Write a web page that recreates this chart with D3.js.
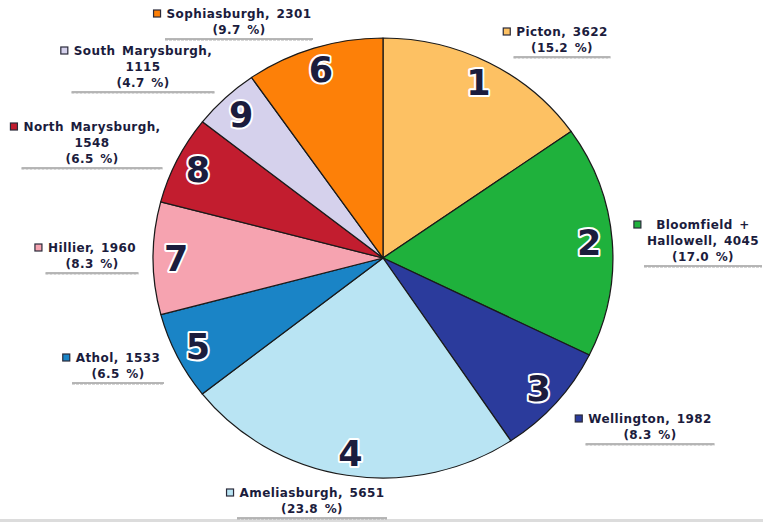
<!DOCTYPE html>
<html>
<head>
<meta charset="utf-8">
<script src="https://cdn.jsdelivr.net/npm/d3@7"></script>
<style>
  body { margin: 0; background: #fff; }
  svg { display: block; }
</style>
</head>
<body>
<div id="chart"></div>
<script>
// slices, clockwise from 12 o'clock
var townships = ["Picton", "Bloomfield + Hallowell", "Wellington", "Ameliasburgh", "Athol",
                 "Hillier", "North Marysburgh", "South Marysburgh", "Sophiasburgh"];
var wardNumbers = [1, 2, 3, 4, 5, 7, 8, 9, 6];
var population = [3622, 4045, 1982, 5651, 1533, 1960, 1548, 1115, 2301];
var colours = ["#fdc163", "#1fb13c", "#2b3b9c", "#b9e4f3", "#1a84c6",
               "#f6a3b0", "#c21d2f", "#d5d1ec", "#fd8008"];

var width = 763, height = 522;
var cx = 383, cy = 258, r = 220;
var textColour = '#1b1c3d';

var svg = d3.select('#chart')
    .append('svg')
    .attr('width', width)
    .attr('height', height);

// scanned page edge at the bottom
svg.append('rect')
    .attr('x', 0).attr('y', 519)
    .attr('width', width).attr('height', 3)
    .style('fill', '#dcdcdc');

var total = d3.sum(population);
var rows = townships.map(function (t, i) {
    return { name: t, num: wardNumbers[i], value: population[i], colour: colours[i],
             pct: (population[i] / total * 100).toFixed(1) };
});

var pie = d3.pie().sort(null).value(function (d) { return d.value; });
var arcs = pie(rows);

var arc = d3.arc().innerRadius(0).outerRadius(r);
var labelArc = d3.arc().innerRadius(198).outerRadius(198);

// pie is slightly wider than tall in the scan
var g = svg.append('g')
    .attr('transform', 'translate(' + cx + ',' + cy + ') scale(1.045,1)');

g.selectAll('path.slice')
    .data(arcs)
    .enter().append('path')
    .attr('class', 'slice')
    .attr('d', arc)
    .style('fill', function (d) { return d.data.colour; })
    .style('stroke', '#1a1a1a')
    .style('stroke-width', 1.2)
    .style('stroke-linejoin', 'round');

svg.append('g')
    .attr('transform', 'translate(' + cx + ',' + cy + ')')
    .selectAll('text')
    .data(arcs)
    .enter().append('text')
    .attr('x', function (d) { return labelArc.centroid(d)[0] * 1.045; })
    .attr('y', function (d) { return labelArc.centroid(d)[1]; })
    .attr('dy', '0.36em')
    .attr('text-anchor', 'middle')
    .style('font-family', '"DejaVu Sans", Verdana, sans-serif')
    .style('font-weight', 'bold')
    .style('font-size', '35px')
    .style('fill', textColour)
    .style('stroke', '#fff')
    .style('stroke-width', 4)
    .style('stroke-linejoin', 'round')
    .style('paint-order', 'stroke')
    .text(function (d) { return d.data.num; });

// callout text, line breaks per label
function labelLines(d) {
    var v = d.value, p = '(' + d.pct + ' %)';
    switch (d.name) {
        case "Bloomfield + Hallowell": return ["Bloomfield +", "Hallowell, " + v, p];
        case "North Marysburgh":
        case "South Marysburgh": return [d.name + ",", "" + v, p];
        default: return [d.name + ", " + v, p];
    }
}

// where each callout block sits: centre x, first line y, underline width
var calloutX = [562, 703, 650, 312, 118, 92, 92, 143, 239];
var calloutY = [32, 225, 419, 493, 358, 248, 127, 51, 14];
var calloutW = [97, 118, 129, 150, 92, 93, 141, 143, 148];
var lineH = 16;

var callouts = svg.selectAll('g.callout')
    .data(rows)
    .enter().append('g')
    .attr('class', 'callout')
    .attr('transform', function (d, i) {
        return 'translate(' + calloutX[i] + ',' + calloutY[i] + ')';
    });

callouts.each(function (d, i) {
    var c = d3.select(this);
    var lines = labelLines(d);
    var txt = c.append('text')
        .attr('text-anchor', 'middle')
        .style('font-family', '"DejaVu Sans", Verdana, sans-serif')
        .style('font-weight', 'bold')
        .style('font-size', '12px')
        .style('letter-spacing', '0.4px')
        .style('word-spacing', '2px')
        .style('fill', textColour);
    var maxW = 0;
    lines.forEach(function (l, k) {
        var t = txt.append('tspan')
            .attr('x', 0)
            .attr('y', k * lineH)
            .attr('dy', '0.36em')
            .text(l);
        maxW = Math.max(maxW, t.node().getComputedTextLength());
    });
    c.append('rect')
        .attr('x', -maxW / 2 - 13)
        .attr('y', -4)
        .attr('width', 7)
        .attr('height', 7)
        .style('fill', d.colour)
        .style('stroke', '#2a2a3a')
        .style('stroke-width', 1.2);
    var uy = (lines.length - 1) * lineH + 9;
    c.append('line')
        .attr('x1', -calloutW[i] / 2).attr('x2', calloutW[i] / 2)
        .attr('y1', uy).attr('y2', uy)
        .style('stroke', '#6f6f6f')
        .style('stroke-width', 1);
    c.append('line')
        .attr('x1', -calloutW[i] / 2).attr('x2', calloutW[i] / 2)
        .attr('y1', uy + 1).attr('y2', uy + 1)
        .style('stroke', '#b0b0b0')
        .style('stroke-width', 1)
        .style('stroke-dasharray', '3,1');
});
</script>
</body>
</html>
